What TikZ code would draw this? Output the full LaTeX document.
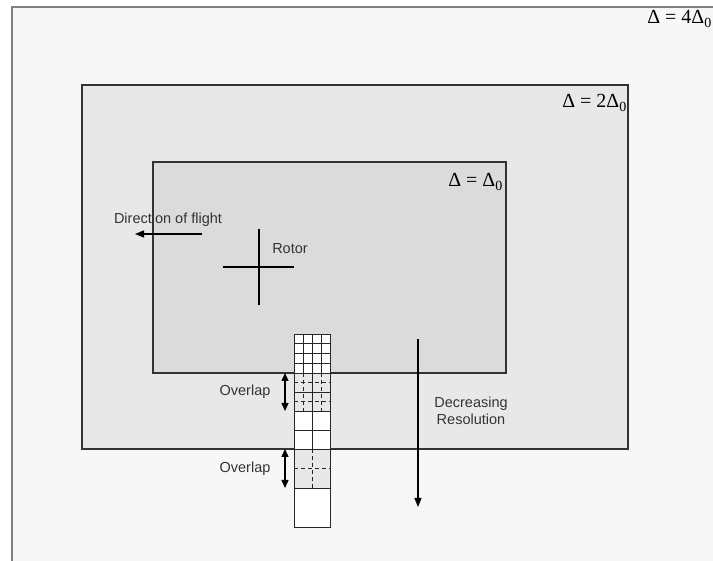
\documentclass[tikz,border=0pt]{standalone}
\usepackage{fontspec}
\setmainfont{Liberation Sans}
\newfontfamily\deltafont{Liberation Serif}
\usetikzlibrary{arrows.meta}

\tikzset{
  levelbox/.style={draw=black!80, line width=1.2pt},
  cell/.style={draw=black!85, line width=0.7pt},
  label/.style={font=\fontsize{14.5}{17}\selectfont, text=black!80, inner sep=0pt},
  deltalabel/.style={font=\deltafont\fontsize{20}{23}\selectfont, inner sep=0pt, anchor=east},
  tip/.style={Triangle[length=9pt,width=7pt]},
  arrowline/.style={line width=1.3pt, -{Triangle[length=9pt,width=7pt]}},
  twoway/.style={line width=1.3pt, {Triangle[length=8pt,width=7pt]}-{Triangle[length=8pt,width=7pt]}},
}

\begin{document}
\begin{tikzpicture}[x=1pt,y=-1pt]
\useasboundingbox (0,0) rectangle (713,561);
\fill[white] (0,0) rectangle (713,561);

% levels of the grid
\fill[black!3] (12,7) rectangle (713,561);
\draw[black!50, line width=1.2pt] (12,561) -- (12,7) -- (713,7);
\filldraw[levelbox, fill=black!9] (82,85) rectangle (628,449);
\filldraw[levelbox, fill=black!14] (153,162) rectangle (506,373);

\node[deltalabel] (deltaD) at (712,19) {Δ = 4Δ\textsubscript{0}};
\node[deltalabel] (deltaC) at (627,103) {Δ = 2Δ\textsubscript{0}};
\node[deltalabel] (deltaB) at (503,182) {Δ = Δ\textsubscript{0}};

% column of cells
\fill[white] (294,334) rectangle (330,527);
\fill[black!9] (294,373) rectangle (330,411);
\fill[black!9] (294,449) rectangle (330,488);
\foreach \x in {303,321} \draw[cell] (\x,334) -- (\x,373);
\foreach \y in {343.75,353.5,363.25} \draw[cell] (294,\y) -- (330,\y);
\foreach \x in {303,321} \draw[cell, dash pattern=on 4pt off 3pt] (\x,373) -- (\x,411);
\foreach \y in {382.5,401.5} \draw[cell, dash pattern=on 4pt off 3pt] (294,\y) -- (330,\y);
\draw[cell] (312,334) -- (312,449);
\foreach \y in {373,392,411,430,449,488} \draw[cell] (294,\y) -- (330,\y);
\draw[cell, dash pattern=on 4pt off 3pt] (312,449) -- (312,488);
\draw[cell, dash pattern=on 4pt off 3pt] (294,468.5) -- (330,468.5);
\draw[cell] (294,334) rectangle (330,527);

% overlaps
\node[label] (overlapA) at (245,392) {Overlap};
\node[label] (overlapB) at (245,469) {Overlap};
\coordinate (overlapAtop) at (285,373);
\coordinate (overlapAbot) at (285,411);
\coordinate (overlapBtop) at (285,449);
\coordinate (overlapBbot) at (285,488);
\draw[twoway] (overlapAtop) -- (overlapAbot);
\draw[twoway] (overlapBtop) -- (overlapBbot);

% rotor and flight
\node[label] (flight) at (168,220) {Direction of flight};
\coordinate (flightA) at (202,234);
\coordinate (flightB) at (135,234);
\draw[arrowline] (flightA) -- (flightB);
\node[label] (rotor) at (290,249) {Rotor};
\coordinate (rotorW) at (223,267);
\coordinate (rotorE) at (294,267);
\coordinate (rotorN) at (259,229);
\coordinate (rotorS) at (259,305);
\draw[line width=1.5pt] (rotorW) -- (rotorE);
\draw[line width=1.5pt] (rotorN) -- (rotorS);

% resolution
\node[label, align=center] (resolution) at (471,411) {Decreasing\\Resolution};
\coordinate (resA) at (418,339);
\coordinate (resB) at (418,507);
\draw[arrowline] (resA) -- (resB);
\end{tikzpicture}
\end{document}
